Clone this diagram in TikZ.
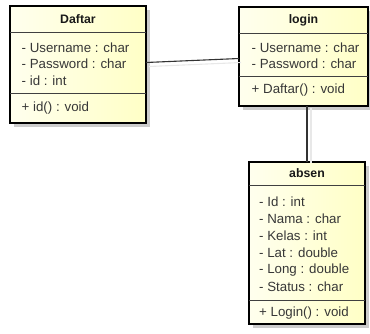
\documentclass[tikz,border=0pt]{standalone}
\usepackage{fontspec}
\setmainfont{Liberation Sans}
\usetikzlibrary{shadows}
\definecolor{boxL}{RGB}{255,255,238}
\definecolor{boxR}{RGB}{255,255,198}
\definecolor{txt}{RGB}{55,55,55}
\tikzset{
  cls/.style={draw=black, line width=1.5pt, left color=boxL, right color=boxR,
    inner sep=0pt, outer sep=0pt, anchor=north west,
    drop shadow={shadow xshift=4pt, shadow yshift=-4pt, fill=black!20, opacity=1}},
  divider/.style={draw=black!75, line width=0.9pt},
  ttl/.style={font=\fontsize{12.3}{14}\selectfont\bfseries, text=black!90, inner sep=0pt},
  mem/.style={font=\fontsize{13.3}{15}\selectfont, text=txt, inner sep=0pt, anchor=west},
  conn/.style={draw=black!80, line width=1.1pt},
  connshadow/.style={draw=black!9, line width=1.1pt},
}
\begin{document}
\begin{tikzpicture}[x=1pt, y=-1pt]
\useasboundingbox (0,0) rectangle (370,333);
% boxes
\node[cls, minimum width=136pt, minimum height=117pt] (daftar) at (10,6) {};
\node[cls, minimum width=129pt, minimum height=99pt] (login) at (239,7) {};
\node[cls, minimum width=116pt, minimum height=162pt] (absen) at (249,162) {};
% dividers
\draw[divider] (10,32) -- (146,32);
\draw[divider] (10,93.5) -- (146,93.5);
\draw[divider] (239,33) -- (368,33);
\draw[divider] (239,76) -- (368,76);
\draw[divider] (249,185) -- (365,185);
\draw[divider] (249,300) -- (365,300);
% titles
\node[ttl] (daftarT) at (78,19) {Daftar};
\node[ttl] (loginT) at (303.5,20.5) {login};
\node[ttl] (absenT) at (307,173.5) {absen};
% Daftar members
\node[mem] (d1) at (21.5,48) {- Username : char};
\node[mem] (d2) at (21.5,64) {- Password : char};
\node[mem] (d3) at (21.5,80.5) {- id : int};
\node[mem] (d4) at (21.5,108) {+ id() : void};
% login members
\node[mem] (l1) at (251.5,48) {- Username : char};
\node[mem] (l2) at (251.5,64) {- Password : char};
\node[mem] (l3) at (251.5,90.5) {+ Daftar() : void};
% absen members
\node[mem] (a1) at (259,202) {- Id : int};
\node[mem] (a2) at (259,219) {- Nama : char};
\node[mem] (a3) at (259,236) {- Kelas : int};
\node[mem] (a4) at (259,253) {- Lat : double};
\node[mem] (a5) at (259,270) {- Long : double};
\node[mem] (a6) at (259,287) {- Status : char};
\node[mem] (a7) at (259,313) {+ Login() : void};
% connectors
\coordinate (dl1) at ([yshift=2pt]daftar.east);
\coordinate (dl2) at ([yshift=-2pt]login.west);
\coordinate (la1) at (absen.north |- login.south);
\draw[connshadow, transform canvas={xshift=2pt, yshift=-4pt}] ([xshift=1pt]dl1) -- (dl2);
\draw[connshadow, transform canvas={xshift=4pt, yshift=-2pt}] (la1) -- ([yshift=1pt]absen.north);
\draw[conn] (dl1) -- (dl2);
\draw[conn] (la1) -- (absen.north);
\end{tikzpicture}
\end{document}
